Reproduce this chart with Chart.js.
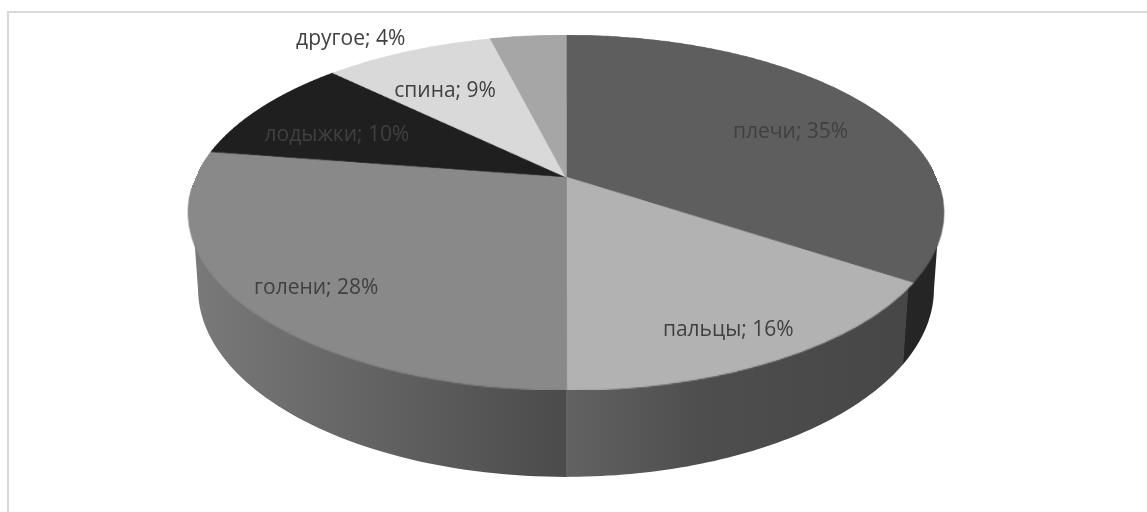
<!DOCTYPE html>
<html>
<head>
<meta charset="utf-8">
<script src="https://cdn.jsdelivr.net/npm/chart.js@4.4.1/dist/chart.umd.min.js"></script>
<style>
    html, body { margin: 0; padding: 0; background: #fff; }
    #grafico { display: block; }
</style>
</head>
<body>
<canvas id="grafico" width="1147" height="512"></canvas>
<script>
// dados do gráfico
const categorias = ["плечи", "пальцы", "голени", "лодыжки", "спина", "другое"];
const valores = [35, 16, 28, 10, 9, 4];
const cores = ["#5e5e5e", "#b2b2b2", "#898989", "#1f1f1f", "#d9d9d9", "#a6a6a6"];
const rotulos = categorias.map((c, i) => c + "; " + valores[i] + "%");

// perspectiva da pizza 3D (centro, raios, inclinação, altura)
const vista = { cx: 566, cy: 177, rx: 369.9, ry: 170.4, p: 0.2, alt: 77, q: 0.025 };

// sombreamento da lateral, em função de x
const sombra = [[188, 0.89], [566, 0.55], [700, 0.44], [945, 0.39]];

function projetar(ang, r, prof) {
    const u = r * Math.cos(ang), v = r * Math.sin(ang);
    const w = 1 - vista.p * v + vista.q * prof;
    return {
        x: vista.cx + vista.rx * u / w,
        y: vista.cy + (vista.ry * v + vista.alt * prof) / w
    };
}

function escurecer(hex, f) {
    const n = parseInt(hex.slice(1), 16);
    const r = Math.round(((n >> 16) & 255) * f);
    const g = Math.round(((n >> 8) & 255) * f);
    const b = Math.round((n & 255) * f);
    return "rgb(" + r + "," + g + "," + b + ")";
}

function vDaLinha(Y) {
    const d = Y - vista.cy;
    return d / (vista.ry + vista.p * d);
}

const pizza3d = {
    id: "pizza3d",
    beforeDraw(chart) {
        const ctx = chart.ctx;
        ctx.save();
        ctx.strokeStyle = "#d9d9d9";
        ctx.lineWidth = 2;
        ctx.strokeRect(8, 12, 1200, 600);
        ctx.restore();
    },
    beforeDatasetsDraw(chart) {
        const ctx = chart.ctx;
        const arcos = chart.getDatasetMeta(0).data;
        const tMin = Math.asin(vista.p), tMax = Math.PI - tMin;
        const x0 = sombra[0][0], x1 = sombra[sombra.length - 1][0];

        // laterais
        arcos.forEach((arco, i) => {
            const a1 = Math.max(arco.startAngle, tMin);
            let a2 = Math.min(arco.endAngle, tMax);
            if (a2 <= a1) return;
            if (a2 < tMax) a2 = Math.min(a2 + 0.004, tMax);
            const passos = 60;
            ctx.save();
            ctx.beginPath();
            for (let k = 0; k <= passos; k++) {
                const pt = projetar(a1 + (a2 - a1) * k / passos, 0.99, 0);
                if (k === 0) ctx.moveTo(pt.x, pt.y); else ctx.lineTo(pt.x, pt.y);
            }
            for (let k = passos; k >= 0; k--) {
                const pt = projetar(a1 + (a2 - a1) * k / passos, 1, 1);
                ctx.lineTo(pt.x, pt.y);
            }
            ctx.closePath();
            const grad = ctx.createLinearGradient(x0, 0, x1, 0);
            sombra.forEach(s => grad.addColorStop((s[0] - x0) / (x1 - x0), escurecer(cores[i], s[1])));
            ctx.fillStyle = grad;
            ctx.fill();
            ctx.restore();
        });

        // topo: setores desenhados pelo Chart.js num canvas auxiliar e projetados linha a linha
        const RX = 420, RY = 190;
        const aux = document.createElement("canvas");
        aux.width = 2 * RX;
        aux.height = 2 * RY;
        const ac = aux.getContext("2d");
        const ref = arcos[0];
        ac.save();
        ac.translate(RX, RY);
        ac.scale(RX / ref.outerRadius, RY / ref.outerRadius);
        ac.translate(-ref.x, -ref.y);
        arcos.forEach(a => a.draw(ac));
        ac.restore();

        const yTopo = vista.cy - vista.ry / (1 + vista.p);
        const yBase = vista.cy + vista.ry / (1 - vista.p);
        for (let Y = Math.floor(yTopo); Y < Math.ceil(yBase); Y++) {
            const v0 = Math.max(-1, vDaLinha(Y));
            const v1 = Math.min(1, vDaLinha(Y + 1));
            if (v1 <= v0) continue;
            const w = 1 - vista.p * (v0 + v1) / 2;
            const meia = vista.rx / w;
            ctx.drawImage(aux, 0, RY + v0 * RY, 2 * RX, (v1 - v0) * RY, vista.cx - meia, Y, 2 * meia, 1);
        }
        return false;
    },
    afterDraw(chart) {
        const ctx = chart.ctx;
        const arcos = chart.getDatasetMeta(0).data;
        ctx.save();
        ctx.font = '21px "Open Sans"';
        ctx.fillStyle = "#404040";
        ctx.textAlign = "center";
        ctx.textBaseline = "middle";
        arcos.forEach((arco, i) => {
            const meio = (arco.startAngle + arco.endAngle) / 2;
            let pos;
            if (valores[i] < 5) {
                pos = projetar(meio - 0.5, 1.19, 0);
            } else {
                // rótulos do lado de trás ficam um pouco mais para dentro
                const r = Math.sin(meio) > 0 ? 0.8 : 0.74;
                pos = projetar(meio, r, 0.15);
            }
            ctx.fillText(rotulos[i], pos.x, pos.y);
        });
        ctx.restore();
    }
};

new Chart(document.getElementById("grafico"), {
    type: "pie",
    data: {
        labels: categorias,
        datasets: [{
            data: valores,
            backgroundColor: cores,
            borderColor: cores,
            borderWidth: 1
        }]
    },
    options: {
        responsive: false,
        animation: false,
        events: [],
        plugins: {
            legend: { display: false },
            tooltip: { enabled: false }
        }
    },
    plugins: [pizza3d]
});
</script>
</body>
</html>
